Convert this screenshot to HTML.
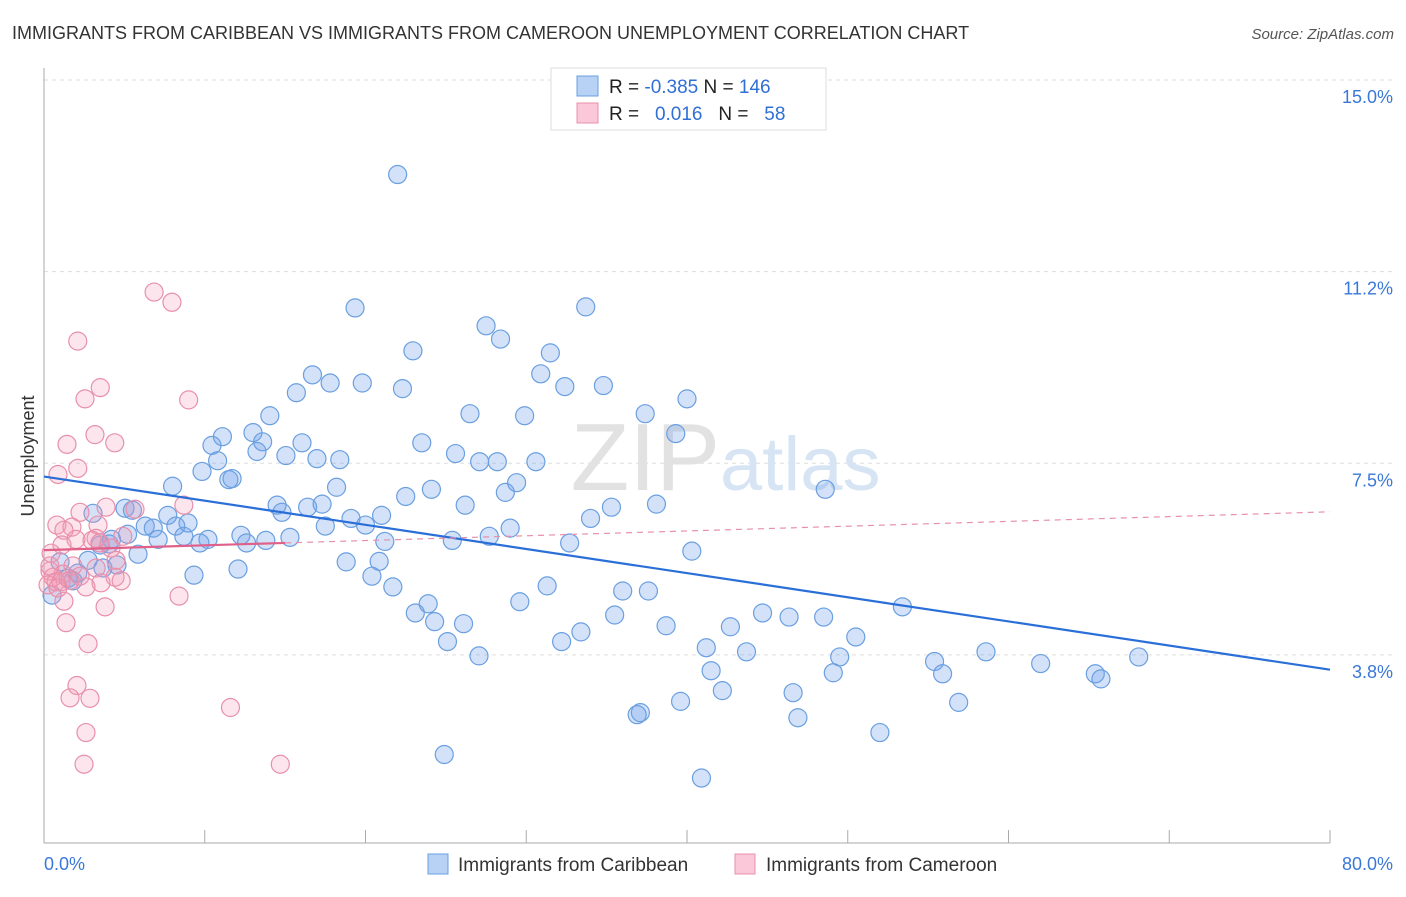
<!DOCTYPE html>
<html><head><meta charset="utf-8"><style>
body{margin:0;background:#fff;font-family:"Liberation Sans",sans-serif}
svg text{font-family:"Liberation Sans",sans-serif}
</style></head><body>
<svg width="1406" height="892" viewBox="0 0 1406 892" xmlns="http://www.w3.org/2000/svg">
<text x="12" y="39" font-size="18" fill="#333">IMMIGRANTS FROM CARIBBEAN VS IMMIGRANTS FROM CAMEROON UNEMPLOYMENT CORRELATION CHART</text>
<text x="1394" y="39" font-size="15" fill="#555" text-anchor="end" font-style="italic">Source: ZipAtlas.com</text>
<text transform="translate(34,456) rotate(-90)" font-size="18" fill="#333" text-anchor="middle">Unemployment</text>
<g id="grid"></g>
<g id="axes"></g>
<text x="720" y="490" font-size="96" fill="#e2e2e2" text-anchor="end" font-family="Liberation Serif">ZIP</text>
<text x="720" y="490" font-size="76" fill="#d6e4f4">atlas</text>
<g id="pts"></g>
<g id="trends"></g>
<g>
<rect x="551" y="68" width="275" height="62" fill="#fff" stroke="#ddd"/>
<rect x="577" y="76" width="21" height="20" fill="#b8d2f5" stroke="#6a9fe0"/>
<rect x="577" y="103" width="21" height="20" fill="#fac8d8" stroke="#e890ab"/>
<text x="609" y="93" font-size="19" fill="#222">R = <tspan fill="#2f6fd6">-0.385</tspan>   N = <tspan fill="#2f6fd6">146</tspan></text>
<text x="609" y="120" font-size="19" fill="#222" xml:space="preserve">R =   <tspan fill="#2f6fd6">0.016</tspan>   N =   <tspan fill="#2f6fd6">58</tspan></text>
</g>
<g>
<rect x="428" y="854" width="20" height="20" fill="#b8d2f5" stroke="#6a9fe0"/>
<text x="458" y="871" font-size="19" fill="#333">Immigrants from Caribbean</text>
<rect x="735" y="854" width="20" height="20" fill="#fac8d8" stroke="#e890ab"/>
<text x="766" y="871" font-size="19" fill="#333">Immigrants from Cameroon</text>
</g>
</svg>
<script>
const yTicks=[15,11.25,7.5,3.75];
const yTickLabels=["15.0%","11.2%","7.5%","3.8%"];
const xTicks=[0,10,20,30,40,50,60,70,80];
const blueX=[22.0,19.35,33.7,27.5,28.4,22.95,31.5,16.7,30.9,17.8,19.8,22.3,34.8,32.4,15.7,40.0,14.05,26.5,29.9,37.4,39.3,13.0,11.1,13.6,16.05,10.45,23.5,13.25,15.05,25.6,10.8,16.98,18.4,27.1,28.2,30.6,9.83,11.5,11.7,29.4,8.0,18.2,24.1,28.7,22.5,48.6,14.5,17.3,16.4,26.2,35.3,38.1,5.04,5.5,7.7,14.8,21.0,3.05,34.0,19.1,8.96,6.3,6.8,8.2,20.0,17.5,29.0,5.2,7.1,12.25,8.7,10.2,15.3,13.8,27.7,4.2,21.2,4.05,25.4,12.6,9.7,32.7,3.5,5.85,40.3,20.85,18.8,2.74,1.0,4.54,3.67,12.07,20.4,2.1,1.5,9.33,31.3,21.7,36.0,37.6,1.8,0.5,29.6,23.9,23.1,35.5,44.7,46.35,48.5,53.4,24.3,26.1,38.7,42.7,33.4,50.5,32.2,25.1,41.2,43.7,27.06,49.5,58.6,68.1,62.0,55.4,41.5,55.9,49.1,65.4,65.75,42.2,46.6,39.6,56.9,36.9,37.1,46.9,52.0,24.9,40.9];
const blueY=[13.15,10.54,10.56,10.19,9.93,9.70,9.66,9.23,9.25,9.07,9.07,8.96,9.02,9.0,8.88,8.76,8.43,8.47,8.43,8.47,8.08,8.10,8.02,7.92,7.90,7.85,7.90,7.73,7.65,7.69,7.55,7.59,7.57,7.53,7.53,7.53,7.34,7.18,7.2,7.12,7.05,7.03,6.99,6.93,6.85,6.99,6.68,6.70,6.64,6.68,6.64,6.70,6.62,6.58,6.48,6.54,6.48,6.52,6.42,6.42,6.33,6.27,6.23,6.27,6.29,6.27,6.23,6.11,6.01,6.09,6.07,6.01,6.05,5.99,6.07,6.01,5.97,5.92,5.99,5.94,5.94,5.94,5.90,5.72,5.78,5.58,5.57,5.60,5.57,5.51,5.45,5.43,5.29,5.35,5.25,5.31,5.10,5.08,5.0,5.0,5.2,4.92,4.79,4.75,4.57,4.53,4.57,4.49,4.49,4.69,4.40,4.36,4.32,4.30,4.20,4.1,4.01,4.01,3.89,3.81,3.73,3.71,3.81,3.71,3.58,3.62,3.44,3.38,3.40,3.38,3.28,3.05,3.01,2.84,2.82,2.58,2.62,2.52,2.23,1.80,1.34];
const pinkX=[6.85,7.96,2.1,3.5,2.55,9.0,3.17,4.4,1.43,2.1,0.87,3.86,5.66,8.7,2.24,0.8,1.74,1.24,3.36,3.24,4.9,2.99,1.99,1.12,3.48,0.44,4.17,4.48,1.8,3.24,0.37,1.18,0.56,2.24,4.42,0.75,0.25,1.06,1.62,4.8,3.55,2.61,8.4,1.24,3.8,1.37,2.74,2.05,1.62,2.86,11.6,2.61,2.49,14.7,0.87,0.37];
const pinkY=[10.85,10.65,9.89,8.98,8.76,8.74,8.06,7.90,7.87,7.40,7.28,6.64,6.60,6.68,6.54,6.29,6.25,6.19,6.29,6.03,6.07,5.99,6.01,5.90,5.94,5.74,5.84,5.60,5.49,5.45,5.39,5.33,5.27,5.29,5.27,5.18,5.12,5.18,5.21,5.20,5.16,5.08,4.9,4.80,4.69,4.38,3.97,3.15,2.91,2.90,2.72,2.23,1.61,1.61,5.06,5.49];
const blueTrend=[7.24,3.46];
const pinkTrend=[5.8,6.55];
const NS='http://www.w3.org/2000/svg';
const X=v=>44+v*(1286/80);
const Y=v=>80+(15-v)*51.1;
function mk(tag,attrs,parent){const e=document.createElementNS(NS,tag);for(const k in attrs)e.setAttribute(k,attrs[k]);parent.appendChild(e);return e;}
const grid=document.getElementById('grid'),axes=document.getElementById('axes');
yTicks.forEach((t,i)=>{
 const l=mk('line',{x1:44,x2:1394,y1:Y(t),y2:Y(t),stroke:'#ddd','stroke-dasharray':'4,4'},grid);
 
 
 const tx=mk('text',{x:1393,y:Y(t)+23,'font-size':18,fill:'#3a78d8','text-anchor':'end'},axes);
 tx.textContent=yTickLabels[i];
 
 
});
const ax=mk('line',{x1:44,x2:44,y1:68,y2:843,stroke:'#aaa'},axes);


const bx=mk('line',{x1:44,x2:1330,y1:843,y2:843,stroke:'#aaa'},axes);


xTicks.forEach(t=>{
 const l=mk('line',{x1:X(t),x2:X(t),y1:830,y2:843,stroke:'#aaa'},axes);
 
 
});
[[0,'0.0%','start',44],[80,'80.0%','end',1393]].forEach(a=>{
 const tx=mk('text',{x:a[3],y:870,'font-size':18,fill:'#3a78d8','text-anchor':a[2]},axes);
 tx.textContent=a[1];
 
 
});
const pts=document.getElementById('pts');
blueX.forEach((x,i)=>{
 const c=mk('circle',{cx:X(x),cy:Y(blueY[i]),r:9,fill:'rgba(110,160,235,0.3)',stroke:'#6a9fe0','stroke-width':1.2},pts);
 
 
});
pinkX.forEach((x,i)=>{
 const c=mk('circle',{cx:X(x),cy:Y(pinkY[i]),r:9,fill:'rgba(245,150,180,0.25)',stroke:'#e890ab','stroke-width':1.2},pts);
 
 
});
const tr=document.getElementById('trends');
const b=mk('line',{x1:X(0),y1:Y(blueTrend[0]),x2:X(80),y2:Y(blueTrend[1]),stroke:'#2a6fd8','stroke-width':2.2},tr);


const pv=t=>pinkTrend[0]+(pinkTrend[1]-pinkTrend[0])*t/80;
const pd=mk('line',{x1:X(15),y1:Y(pv(15)),x2:X(80),y2:Y(pv(80)),stroke:'#e890ab','stroke-width':1.2,'stroke-dasharray':'6,5'},tr);


const ps=mk('line',{x1:X(0),y1:Y(pv(0)),x2:X(15),y2:Y(pv(15)),stroke:'#e0608a','stroke-width':2.2},tr);


</script>
</body></html>
